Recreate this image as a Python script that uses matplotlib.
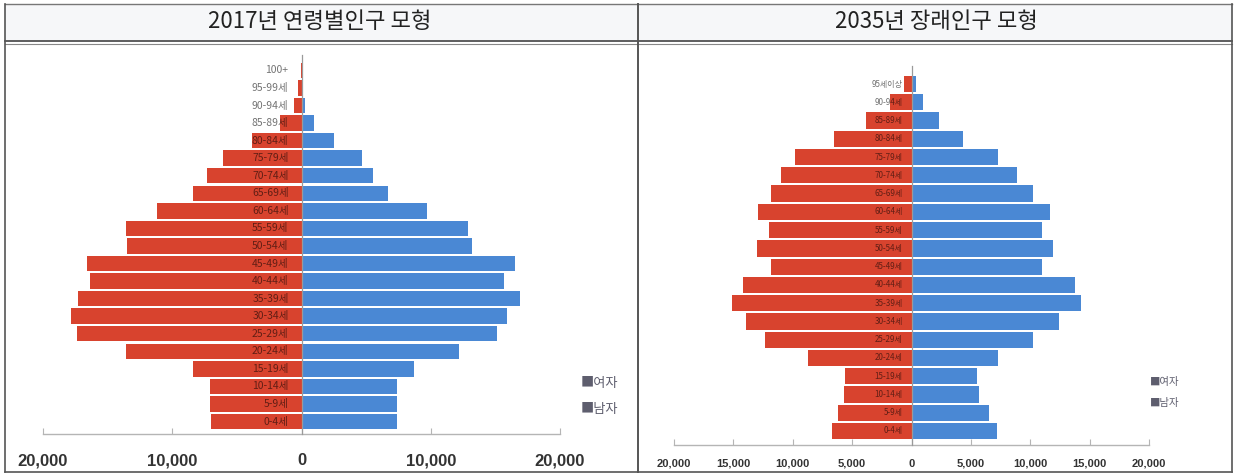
import matplotlib
matplotlib.use("Agg")
import matplotlib.pyplot as plt
from matplotlib.lines import Line2D
from matplotlib.ticker import FuncFormatter

# ---------------- data ----------------
ages_2017 = ["0-4세", "5-9세", "10-14세", "15-19세", "20-24세", "25-29세", "30-34세",
             "35-39세", "40-44세", "45-49세", "50-54세", "55-59세", "60-64세", "65-69세",
             "70-74세", "75-79세", "80-84세", "85-89세", "90-94세", "95-99세", "100+"]
male_2017 = [7400, 7400, 7400, 8700, 12200, 15100, 15900, 16900, 15700, 16500, 13200,
             12900, 9700, 6700, 5500, 4700, 2500, 1000, 300, 100, 30]
female_2017 = [7000, 7100, 7100, 8400, 13600, 17400, 17800, 17300, 16400, 16600, 13500,
               13600, 11200, 8400, 7300, 6100, 3800, 1700, 600, 250, 60]

ages_2035 = ["0-4세", "5-9세", "10-14세", "15-19세", "20-24세", "25-29세", "30-34세",
             "35-39세", "40-44세", "45-49세", "50-54세", "55-59세", "60-64세", "65-69세",
             "70-74세", "75-79세", "80-84세", "85-89세", "90-94세", "95세이상"]
male_2035 = [7200, 6500, 5700, 5500, 7300, 10200, 12400, 14300, 13800, 11000, 11900,
             11000, 11700, 10200, 8900, 7300, 4300, 2350, 930, 350]
female_2035 = [6700, 6200, 5700, 5600, 8700, 12300, 13900, 15100, 14200, 11800, 13000,
               12000, 12900, 11800, 11000, 9800, 6500, 3800, 1850, 600]

title_2017 = "2017년 연령별인구 모형"
title_2035 = "2035년 장래인구 모형"
legend_labels = ["여자", "남자"]
ticks_2017 = [-20000, -10000, 0, 10000, 20000]
ticks_2035 = [-20000, -15000, -10000, -5000, 0, 5000, 10000, 15000, 20000]

RED = "#d8432e"
BLUE = "#4a88d4"
FONT = ["Noto Sans CJK KR", "DejaVu Sans"]

W, H = 1235, 474
fig = plt.figure(figsize=(W / 100, H / 100), dpi=100)
fig.patch.set_facecolor("white")


def fx(x):
    return x / W


def fy(y):
    return 1 - y / H


def fline(x0, y0, x1, y1, color="#555555", lw=1.0):
    fig.add_artist(Line2D([fx(x0), fx(x1)], [fy(y0), fy(y1)], transform=fig.transFigure,
                          color=color, lw=lw, zorder=0))


# frame / title bars
fig.add_artist(plt.Rectangle((fx(5), fy(42)), fx(1232) - fx(5), fy(5) - fy(42),
                             transform=fig.transFigure, facecolor="#f6f7f9",
                             edgecolor="none", zorder=-1))
fline(5, 4, 1232, 4, "#777777", 1.0)
fline(5, 41, 1232, 41, "#444444", 1.2)
fline(5, 44, 1232, 44, "#888888", 0.8)
fline(5, 4, 5, 472, "#555555", 1.2)
fline(1232, 4, 1232, 472, "#555555", 1.2)
fline(638, 4, 638, 472, "#555555", 1.4)
fline(5, 472, 1232, 472, "#555555", 1.2)

fig.text(fx(320), fy(22), title_2017, ha="center", va="center", fontsize=16,
         family=FONT, color="#222222")
fig.text(fx(936), fy(22), title_2035, ha="center", va="center", fontsize=16,
         family=FONT, color="#222222")


def pyramid(rect, ages, male, female, ylim, ticks, bar_h, tick_fs, lab_fs, lab_off,
            pad, ztop):
    ax = fig.add_axes(rect)
    ypos = list(range(len(ages)))
    ax.barh(ypos, [-v for v in female], height=bar_h, color=RED, zorder=2)
    ax.barh(ypos, male, height=bar_h, color=BLUE, zorder=2)
    ax.set_xlim(-20000, 20000)
    ax.set_ylim(*ylim)
    ax.plot([0, 0], [ylim[0], ztop], color="#9a9a9a", lw=0.9, zorder=3, clip_on=False)
    for y, lab in zip(ypos, ages):
        ax.text(lab_off, y, lab, ha="right", va="center", fontsize=lab_fs, family=FONT,
                color="black", alpha=0.55, zorder=4)
    for s in ["top", "left", "right"]:
        ax.spines[s].set_visible(False)
    ax.spines["bottom"].set_color("#b5b5b5")
    ax.spines["bottom"].set_linewidth(1.0)
    ax.set_yticks([])
    ax.set_xticks(ticks)
    ax.xaxis.set_major_formatter(FuncFormatter(lambda v, p: f"{abs(int(v)):,}"))
    ax.tick_params(axis="x", direction="in", length=4, color="#b5b5b5", pad=pad,
                   labelsize=tick_fs, labelcolor="#333333")
    for t in ax.get_xticklabels():
        t.set_fontfamily(["Liberation Sans", "DejaVu Sans"])
        t.set_fontweight("bold")
    ax.patch.set_alpha(0)
    return ax


# left: 2017
pyramid([fx(43), fy(434), fx(560) - fx(43), fy(55) - fy(434)], ages_2017, male_2017,
        female_2017, (-0.71, 20.88), ticks_2017, 0.88, 12, 7.5, -1000, 14, 20.88)
# right: 2035
pyramid([fx(674), fy(445), fx(1149) - fx(674), fy(66) - fy(445)], ages_2035, male_2035,
        female_2035, (-0.77, 19.99), ticks_2035, 0.89, 8, 5.8, -750, 10, 19.99)

# legends
for i, lab in enumerate(legend_labels):
    fig.text(fx(581), fy(384 + 26 * i), "■" + lab, ha="left", va="center", fontsize=9.5,
             family=FONT, color="#5e5e6e")
    fig.text(fx(1150), fy(382 + 21 * i), "■" + lab, ha="left", va="center", fontsize=7.5,
             family=FONT, color="#5e5e6e")

fig.savefig("out.png", dpi=100)
